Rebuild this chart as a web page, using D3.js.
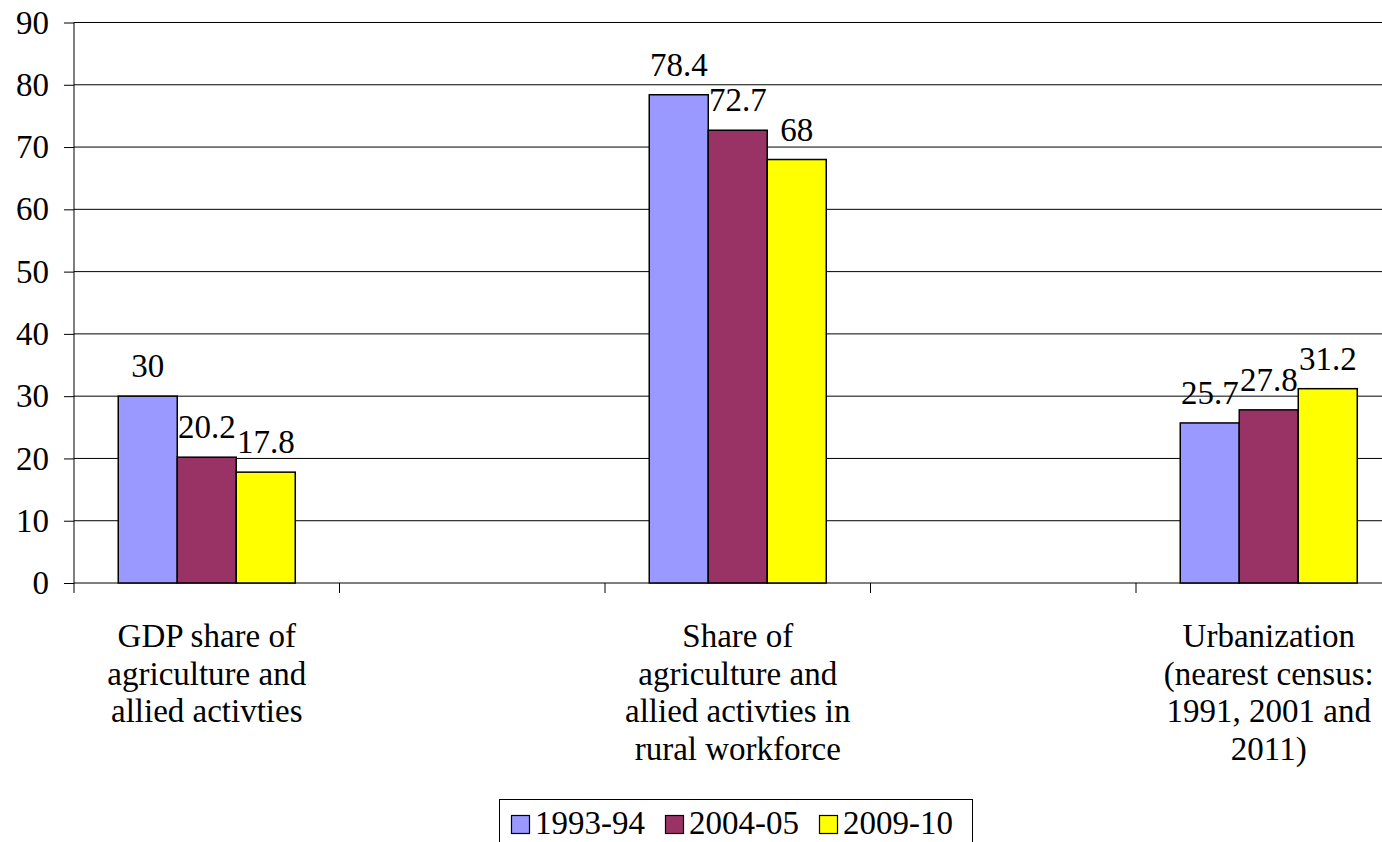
<!DOCTYPE html>
<html>
<head>
<meta charset="utf-8">
<script src="https://cdn.jsdelivr.net/npm/d3@7"></script>
<style>
  html, body { margin: 0; padding: 0; background: #fff; }
  svg { display: block; }
  svg text { font-family: "Liberation Serif", "Times New Roman", Times, Tinos, "Noto Serif", "DejaVu Serif", FreeSerif, serif; }
</style>
</head>
<body>
<svg id="chart" width="1382" height="842"></svg>
<script>
// Category slots along the x axis (blank slots separate the three groups)
const categories = [
  "GDP share of\nagriculture and\nallied activties",
  "",
  "Share of\nagriculture and\nallied activties in\nrural workforce",
  "",
  "Urbanization\n(nearest census:\n1991, 2001 and\n2011)"
];

const seriesNames = ["1993-94", "2004-05", "2009-10"];
const values1993 = [30, null, 78.4, null, 25.7];
const values2004 = [20.2, null, 72.7, null, 27.8];
const values2009 = [17.8, null, 68, null, 31.2];
const seriesColors = ["#9999FF", "#993366", "#FFFF00"];

const yTicks = [0, 10, 20, 30, 40, 50, 60, 70, 80, 90];

const series = [values1993, values2004, values2009];

const FONT = 33;

const svg = d3.select("#chart");

const plot = { left: 74, top: 22.5, bottom: 583, band: 265.5 };
plot.right = plot.left + plot.band * categories.length;

const x = d3.scaleBand()
  .domain(d3.range(categories.length))
  .range([plot.left, plot.right])
  .padding(0);

const xInner = d3.scaleBand()
  .domain(d3.range(seriesNames.length))
  .range([0, x.bandwidth()])
  .paddingInner(0)
  .paddingOuter(0.75);

const y = d3.scaleLinear().domain([0, 90]).range([plot.bottom, plot.top]);

function labelText(sel) {
  return sel.attr("font-size", FONT).attr("fill", "#000");
}

// Horizontal gridlines
svg.append("g")
  .selectAll("line")
  .data(yTicks)
  .join("line")
  .attr("x1", plot.left)
  .attr("x2", plot.right)
  .attr("y1", d => y(d))
  .attr("y2", d => y(d))
  .attr("stroke", "#000")
  .attr("stroke-width", 1);

// Y axis
const yAxis = svg.append("g")
  .attr("transform", `translate(${plot.left},0)`)
  .call(d3.axisLeft(y).tickValues(yTicks).tickSize(10).tickPadding(15).tickFormat(d3.format("d")));
yAxis.attr("font-family", null).attr("font-size", null);
yAxis.select(".domain").attr("stroke", "#000").attr("d", `M-0,${y(90)}V${y(0)}`);
yAxis.selectAll(".tick line").attr("stroke", "#000");
labelText(yAxis.selectAll(".tick text"));

// Category tick marks below the baseline, one at each slot boundary
const catTicks = d3.range(categories.length).map(i => x(i));
svg.append("g")
  .selectAll("line")
  .data(catTicks)
  .join("line")
  .attr("x1", d => d)
  .attr("x2", d => d)
  .attr("y1", plot.bottom)
  .attr("y2", plot.bottom + 10)
  .attr("stroke", "#000");

// Bars
const barData = [];
series.forEach((vals, si) => {
  vals.forEach((v, ci) => {
    if (v !== null) barData.push({ si, ci, v });
  });
});

svg.append("g")
  .selectAll("rect")
  .data(barData)
  .join("rect")
  .attr("x", d => x(d.ci) + xInner(d.si))
  .attr("width", xInner.bandwidth())
  .attr("y", d => y(d.v))
  .attr("height", d => y(0) - y(d.v))
  .attr("fill", d => seriesColors[d.si])
  .attr("stroke", "#000")
  .attr("stroke-width", 1.5);

// Value labels
svg.append("g")
  .selectAll("text")
  .data(barData)
  .join("text")
  .attr("x", d => x(d.ci) + xInner(d.si) + xInner.bandwidth() / 2)
  .attr("y", d => y(d.v) - 19)
  .attr("text-anchor", "middle")
  .call(labelText)
  .text(d => d.v);

// Category labels
const catG = svg.append("g");
categories.forEach((label, i) => {
  if (!label) return;
  const cx = x(i) + x.bandwidth() / 2;
  const t = catG.append("text")
    .attr("text-anchor", "middle")
    .attr("x", cx)
    .attr("y", 647)
    .call(labelText);
  label.split("\n").forEach((line, k) => {
    t.append("tspan")
      .attr("x", cx)
      .attr("dy", k === 0 ? 0 : 37.7)
      .text(line);
  });
});

// Legend
const legend = svg.append("g");
legend.append("rect")
  .attr("x", 499.5)
  .attr("y", 799.5)
  .attr("width", 473)
  .attr("height", 60)
  .attr("fill", "#fff")
  .attr("stroke", "#000")
  .attr("stroke-width", 1);

const legendStep = 154;
const item = legend.selectAll("g.item")
  .data(seriesNames)
  .join("g")
  .attr("class", "item")
  .attr("transform", (d, i) => `translate(${511 + i * legendStep},0)`);
item.append("rect")
  .attr("x", 0.5)
  .attr("y", 815.5)
  .attr("width", 18)
  .attr("height", 18)
  .attr("fill", (d, i) => seriesColors[i])
  .attr("stroke", "#000")
  .attr("stroke-width", 1.2);
item.append("text")
  .attr("x", 24)
  .attr("y", 834)
  .call(labelText)
  .text(d => d);
</script>
</body>
</html>
